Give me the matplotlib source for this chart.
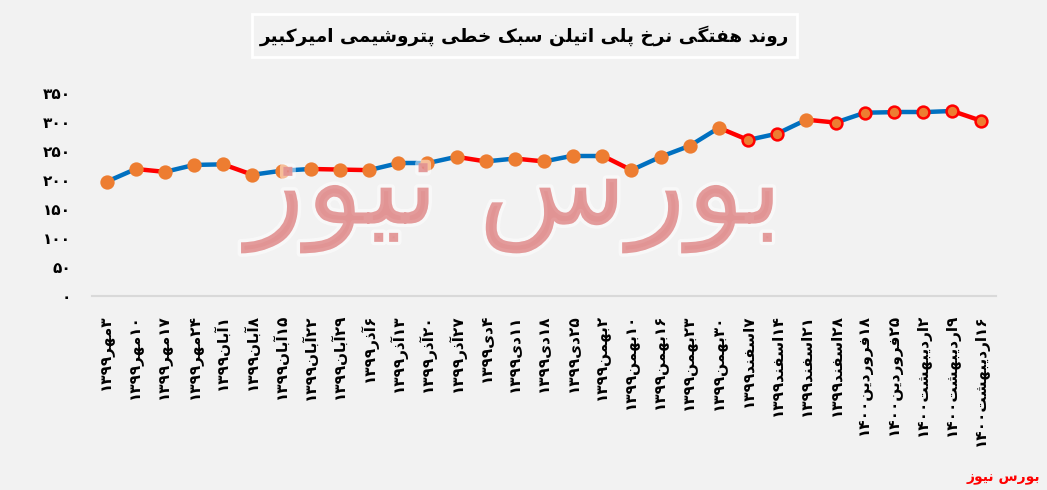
import re
import matplotlib
matplotlib.use("Agg")
import matplotlib.pyplot as plt
from matplotlib.patches import Rectangle
import matplotlib.patheffects as pe

# ---------------- data ----------------
dates = [
    "۳مهر۱۳۹۹", "۱۰مهر۱۳۹۹", "۱۷مهر۱۳۹۹", "۲۴مهر۱۳۹۹",
    "۱آبان۱۳۹۹", "۸آبان۱۳۹۹", "۱۵آبان۱۳۹۹", "۲۲آبان۱۳۹۹", "۲۹آبان۱۳۹۹",
    "۶آذر۱۳۹۹", "۱۳آذر۱۳۹۹", "۲۰آذر۱۳۹۹", "۲۷آذر۱۳۹۹",
    "۴دی۱۳۹۹", "۱۱دی۱۳۹۹", "۱۸دی۱۳۹۹", "۲۵دی۱۳۹۹",
    "۲بهمن۱۳۹۹", "۱۰بهمن۱۳۹۹", "۱۶بهمن۱۳۹۹", "۲۳بهمن۱۳۹۹", "۳۰بهمن۱۳۹۹",
    "۷اسفند۱۳۹۹", "۱۴اسفند۱۳۹۹", "۲۱اسفند۱۳۹۹", "۲۸اسفند۱۳۹۹",
    "۱۸فروردین۱۴۰۰", "۲۵فروردین۱۴۰۰",
    "۲اردیبهشت۱۴۰۰", "۹اردیبهشت۱۴۰۰", "۱۶اردیبهشت۱۴۰۰",
]
prices = [
    197, 219, 214, 226, 227, 209, 216, 219, 218, 217, 229, 229, 240,
    232, 237, 232, 242, 242, 217, 240, 259, 290, 269, 280, 304, 299,
    316, 317, 317, 319, 302,
]
yticks = [0, 50, 100, 150, 200, 250, 300, 350]
ytick_labels = ["۰", "۵۰", "۱۰۰", "۱۵۰", "۲۰۰", "۲۵۰", "۳۰۰", "۳۵۰"]
title = "روند هفتگی نرخ پلی اتیلن سبک خطی پتروشیمی امیرکبیر"
watermark = "بورس نیوز"
source = "بورس نیوز"

# marker outline style per point (red outline on the later points)
marker_edges = ["#ED7D31"] * 22 + ["#FF0000", "#FF0000", "#ED7D31"] + ["#FF0000"] * 6

# ---------------- Arabic/Persian shaping (presentation forms) ----------------
F = {
    'ا': ('\uFE8D', '\uFE8E', None, None),
    'آ': ('\uFE81', '\uFE82', None, None),
    'ب': ('\uFE8F', '\uFE90', '\uFE91', '\uFE92'),
    'پ': ('\uFB56', '\uFB57', '\uFB58', '\uFB59'),
    'ت': ('\uFE95', '\uFE96', '\uFE97', '\uFE98'),
    'ث': ('\uFE99', '\uFE9A', '\uFE9B', '\uFE9C'),
    'ج': ('\uFE9D', '\uFE9E', '\uFE9F', '\uFEA0'),
    'چ': ('\uFB7A', '\uFB7B', '\uFB7C', '\uFB7D'),
    'ح': ('\uFEA1', '\uFEA2', '\uFEA3', '\uFEA4'),
    'خ': ('\uFEA5', '\uFEA6', '\uFEA7', '\uFEA8'),
    'د': ('\uFEA9', '\uFEAA', None, None),
    'ذ': ('\uFEAB', '\uFEAC', None, None),
    'ر': ('\uFEAD', '\uFEAE', None, None),
    'ز': ('\uFEAF', '\uFEB0', None, None),
    'ژ': ('\uFB8A', '\uFB8B', None, None),
    'س': ('\uFEB1', '\uFEB2', '\uFEB3', '\uFEB4'),
    'ش': ('\uFEB5', '\uFEB6', '\uFEB7', '\uFEB8'),
    'ص': ('\uFEB9', '\uFEBA', '\uFEBB', '\uFEBC'),
    'ض': ('\uFEBD', '\uFEBE', '\uFEBF', '\uFEC0'),
    'ط': ('\uFEC1', '\uFEC2', '\uFEC3', '\uFEC4'),
    'ظ': ('\uFEC5', '\uFEC6', '\uFEC7', '\uFEC8'),
    'ع': ('\uFEC9', '\uFECA', '\uFECB', '\uFECC'),
    'غ': ('\uFECD', '\uFECE', '\uFECF', '\uFED0'),
    'ف': ('\uFED1', '\uFED2', '\uFED3', '\uFED4'),
    'ق': ('\uFED5', '\uFED6', '\uFED7', '\uFED8'),
    'ک': ('\uFB8E', '\uFB8F', '\uFB90', '\uFB91'),
    'گ': ('\uFB92', '\uFB93', '\uFB94', '\uFB95'),
    'ل': ('\uFEDD', '\uFEDE', '\uFEDF', '\uFEE0'),
    'م': ('\uFEE1', '\uFEE2', '\uFEE3', '\uFEE4'),
    'ن': ('\uFEE5', '\uFEE6', '\uFEE7', '\uFEE8'),
    'ه': ('\uFEE9', '\uFEEA', '\uFEEB', '\uFEEC'),
    'و': ('\uFEED', '\uFEEE', None, None),
    'ی': ('\uFBFC', '\uFBFD', '\uFBFE', '\uFBFF'),
}


def shape(run):
    out = []
    n = len(run)
    for i, ch in enumerate(run):
        f = F.get(ch)
        if f is None:
            out.append(ch)
            continue
        prev = run[i - 1] if i > 0 else None
        nxt = run[i + 1] if i < n - 1 else None
        jp = prev in F and F[prev][2] is not None
        jn = nxt in F and f[2] is not None
        if jp and jn:
            out.append(f[3])
        elif jp:
            out.append(f[1])
        elif jn:
            out.append(f[2])
        else:
            out.append(f[0])
    return "".join(reversed(out))


DIG = "۰۱۲۳۴۵۶۷۸۹0123456789"


def visual(s):
    runs = re.findall(r"[۰-۹0-9]+|[^۰-۹0-9]+", s)
    return "".join(r if r[0] in DIG else shape(r) for r in reversed(runs))


# ---------------- figure ----------------
plt.rcParams["font.family"] = ["DejaVu Sans"]
W, H = 1047, 490
fig = plt.figure(figsize=(W / 100, H / 100), dpi=100)
fig.patch.set_facecolor("#F2F2F2")

ax = fig.add_axes([92 / W, 1 - 296 / H, (996 - 92) / W, (296 - 93) / H])
ax.set_facecolor("#F2F2F2")

x = list(range(len(prices)))
BLUE, RED, ORANGE = "#0070C0", "#FF0000", "#ED7D31"
for i in range(len(prices) - 1):
    col = BLUE if prices[i + 1] >= prices[i] else RED
    ax.plot(x[i:i + 2], prices[i:i + 2], color=col, lw=3.2,
            solid_capstyle="round", zorder=2)
for i in x:
    ax.plot(x[i], prices[i], "o", ms=8.5, mfc=ORANGE, mec=marker_edges[i],
            mew=1.8, zorder=3)

ax.set_xlim(-0.5, len(prices) - 0.5)
ax.set_ylim(0, 350)
ax.set_yticks(yticks)
ax.set_yticklabels(ytick_labels, fontsize=11, fontweight="bold")
ax.set_xticks(x)
ax.set_xticklabels([visual(d) for d in dates], rotation=90, fontsize=11,
                   fontweight="bold", va="top", ha="center")
ax.tick_params(axis="y", length=0, pad=15)
ax.tick_params(axis="x", length=0, pad=13)
for s in ["top", "right", "left"]:
    ax.spines[s].set_visible(False)
ax.spines["bottom"].set_color("#D9D9D9")
ax.spines["bottom"].set_linewidth(1.5)

# title box
fig.patches.append(Rectangle((252 / W, 1 - 57 / H), 545 / W, 43 / H,
                             transform=fig.transFigure, fc="#F2F2F2",
                             ec="white", lw=2, zorder=1))
fig.text(524.5 / W, 1 - 36 / H, visual(title), ha="center", va="center",
         fontsize=13.3, fontweight="bold", color="black", zorder=2)

# watermark
fig.text(515 / W, 1 - 195 / H, visual(watermark), ha="center", va="center",
         fontsize=88, color="#E08A8A", alpha=0.8, zorder=10,
         path_effects=[pe.withStroke(linewidth=5, foreground="white", alpha=0.5)])

# source
fig.text(1040 / W, 1 - 478 / H, visual(source), ha="right", va="center",
         fontsize=10, fontweight="bold", color="#FF0000")

fig.savefig("out.png", dpi=100, facecolor=fig.get_facecolor())
